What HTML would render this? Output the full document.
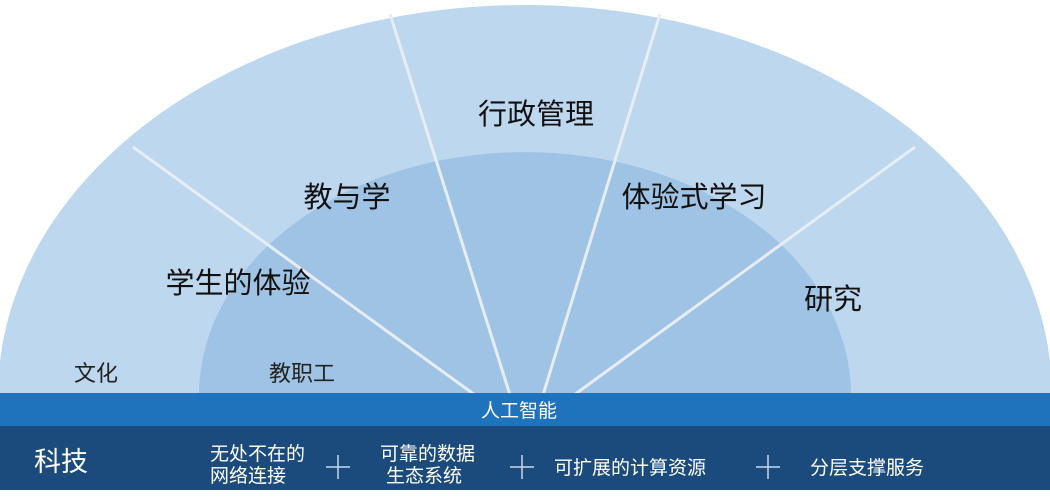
<!DOCTYPE html>
<html><head><meta charset="utf-8"><style>
html,body{margin:0;padding:0;width:1050px;height:500px;background:#fff;overflow:hidden;}
svg{position:absolute;left:0;top:0;display:block}
text{font-family:"Liberation Sans","Noto Sans CJK SC",sans-serif;}
</style></head><body>
<svg width="1050" height="500" viewBox="0 0 1050 500">
<path d="M-2 395 A527 390 0 0 1 1052 395 Z" fill="#bdd7ee"/>
<path d="M199 395 A326 243 0 0 1 851 395 Z" fill="#9fc3e4"/>
<g stroke="#e6edf4" stroke-width="3" fill="none">
<line x1="133" y1="147" x2="475" y2="395"/>
<line x1="390" y1="14" x2="510" y2="395"/>
<line x1="660" y1="14" x2="543" y2="395"/>
<line x1="915" y1="147" x2="574" y2="395"/>
</g>
<rect x="0" y="393" width="1050" height="33" fill="#1f73bd"/>
<rect x="0" y="426" width="1050" height="64" fill="#1b4b7c"/>
<g fill="#111" font-size="29">
<text x="536" y="124" text-anchor="middle">行政管理</text>
<text x="347" y="207" text-anchor="middle">教与学</text>
<text x="694" y="207" text-anchor="middle">体验式学习</text>
<text x="238" y="293" text-anchor="middle">学生的体验</text>
<text x="833" y="309" text-anchor="middle">研究</text>
</g>
<g fill="#222" font-size="22">
<text x="96" y="381" text-anchor="middle">文化</text>
<text x="302" y="381" text-anchor="middle">教职工</text>
</g>
<text x="519" y="417" fill="#fff" font-size="19" text-anchor="middle">人工智能</text>
<g fill="#fff">
<text x="34" y="471" font-size="27">科技</text>
<text x="210" y="460" font-size="19">无处不在的</text>
<text x="210" y="482" font-size="19">网络连接</text>
<text x="380" y="460" font-size="19">可靠的数据</text>
<text x="386" y="482" font-size="19">生态系统</text>
<text x="554" y="474" font-size="19">可扩展的计算资源</text>
<text x="810" y="474" font-size="19">分层支撑服务</text>
</g>
<g stroke="#c9d8e8" stroke-width="1.5">
<line x1="326" y1="467" x2="350" y2="467"/><line x1="338" y1="455" x2="338" y2="479"/>
<line x1="510" y1="467" x2="534" y2="467"/><line x1="522" y1="455" x2="522" y2="479"/>
<line x1="756" y1="467" x2="780" y2="467"/><line x1="768" y1="455" x2="768" y2="479"/>
</g>
</svg>
</body></html>
